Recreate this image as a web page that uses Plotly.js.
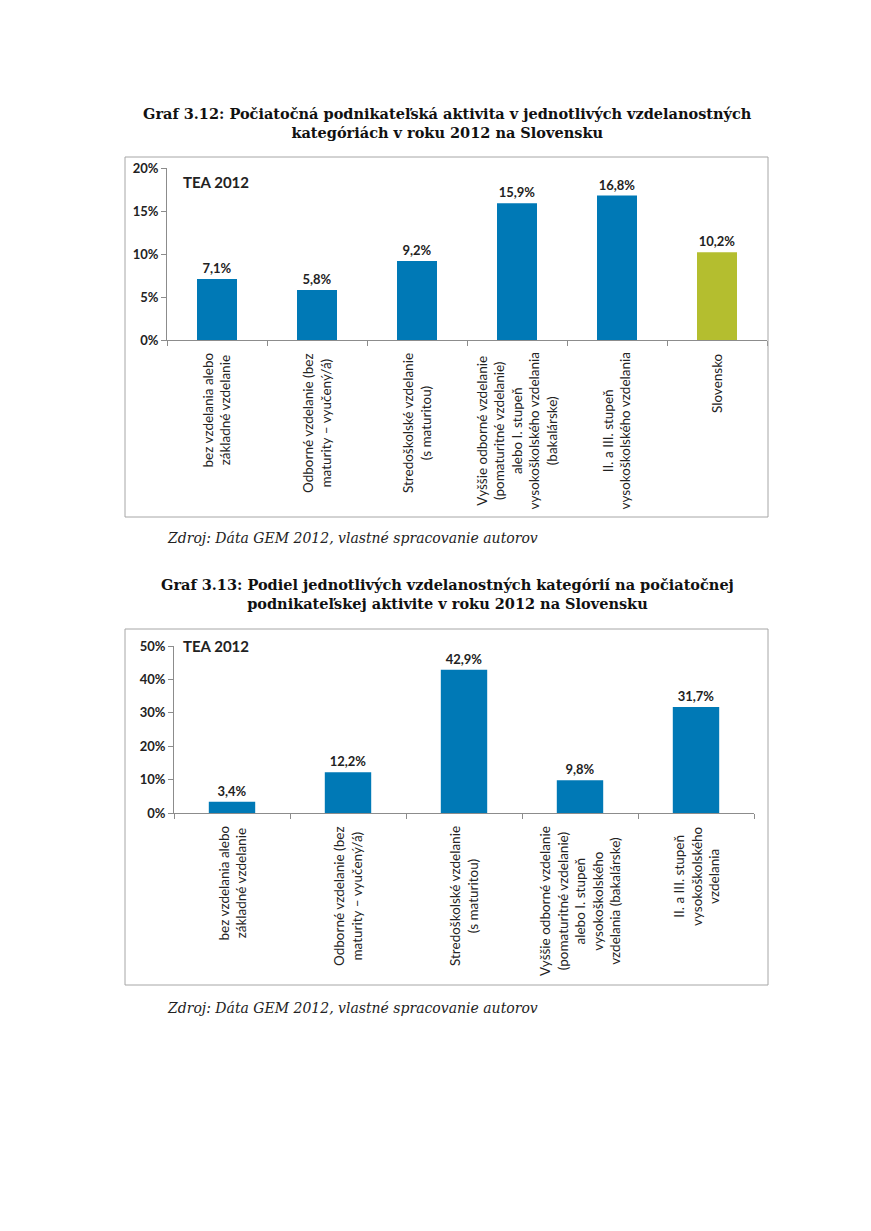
<!DOCTYPE html>
<html>
<head>
<meta charset="utf-8">
<script src="https://cdn.plot.ly/plotly-3.0.1.min.js"></script>
<style>
html,body{margin:0;padding:0;background:#fff;}
#chart{width:871px;height:1231px;}
</style>
</head>
<body>
<div id="chart"></div>
<script>
// ---- data ----
const categories1 = [
  'bez vzdelania alebo<br>základné vzdelanie',
  'Odborné vzdelanie (bez<br>maturity – vyučený/á)',
  'Stredoškolské vzdelanie<br>(s maturitou)',
  'Vyššie odborné vzdelanie<br>(pomaturitné vzdelanie)<br>alebo I. stupeň<br>vysokoškolského vzdelania<br>(bakalárske)',
  'II. a III. stupeň<br>vysokoškolského vzdelania',
  'Slovensko'
];
const values1 = [7.1, 5.8, 9.2, 15.9, 16.8, 10.2];

const categories2 = [
  'bez vzdelania alebo<br>základné vzdelanie',
  'Odborné vzdelanie (bez<br>maturity – vyučený/á)',
  'Stredoškolské vzdelanie<br>(s maturitou)',
  'Vyššie odborné vzdelanie<br>(pomaturitné vzdelanie)<br>alebo I. stupeň<br>vysokoškolského<br>vzdelania (bakalárske)',
  'II. a III. stupeň<br>vysokoškolského<br>vzdelania'
];
const values2 = [3.4, 12.2, 42.9, 9.8, 31.7];

const yTicks1 = [0, 5, 10, 15, 20];
const yTicks2 = [0, 10, 20, 30, 40, 50];
const yTickText1 = ['0%', '5%', '10%', '15%', '20%'];
const yTickText2 = ['0%', '10%', '20%', '30%', '40%', '50%'];

const title1 = 'Graf 3.12: Počiatočná podnikateľská aktivita v jednotlivých vzdelanostných<br>kategóriách v roku 2012 na Slovensku';
const title2 = 'Graf 3.13: Podiel jednotlivých vzdelanostných kategórií na počiatočnej<br>podnikateľskej aktivite v roku 2012 na Slovensku';
const sourceText = 'Zdroj: Dáta GEM 2012, vlastné spracovanie autorov';
const legendText = 'TEA 2012';

// ---- layout helpers ----
const W = 871, H = 1231;
const px = x => x / W;
const py = y => 1 - y / H;
const BLUE = '#0079b6';
const GREEN = '#b4be2f';
const SANS = 'Lato, "Open Sans", sans-serif';
const SERIF = '"DejaVu Serif", Georgia, serif';

const trace1 = {
  type: 'bar', x: categories1, y: values1, xaxis: 'x', yaxis: 'y',
  marker: {color: categories1.map(c => c === 'Slovensko' ? GREEN : BLUE)},
  texttemplate: '<b>%{y:.1f}%</b>', textposition: 'outside',
  textfont: {family: SANS, size: 13, color: '#222'},
  cliponaxis: false, hoverinfo: 'skip'
};
const trace2 = {
  type: 'bar', x: categories2, y: values2, xaxis: 'x2', yaxis: 'y2',
  marker: {color: BLUE},
  texttemplate: '<b>%{y:.1f}%</b>', textposition: 'outside',
  textfont: {family: SANS, size: 13, color: '#222'},
  cliponaxis: false, hoverinfo: 'skip'
};

const xCommon = {
  type: 'category', showticklabels: false, ticks: 'outside', tickson: 'boundaries',
  ticklen: 5, tickcolor: '#8c8c8c', showline: true, linecolor: '#8c8c8c', linewidth: 1,
  showgrid: false, zeroline: false, fixedrange: true
};
const yCommon = {
  ticks: 'outside', ticklen: 5, tickcolor: '#8c8c8c', showline: true, linecolor: '#8c8c8c',
  linewidth: 1, showgrid: false, zeroline: false, tickmode: 'array',
  tickfont: {family: SANS, size: 13, color: '#222', weight: 'bold'}, fixedrange: true
};

const catAnn = (cats, xref, yTop) => cats.map(c => ({
  x: c, xref: xref, y: py(yTop), yref: 'paper', text: c, showarrow: false,
  textangle: -90, align: 'center', xanchor: 'center', yanchor: 'top',
  font: {family: SANS, size: 13.5, color: '#222'}
}));

const layout = {
  width: W, height: H, autosize: false,
  margin: {l: 0, r: 0, t: 0, b: 0, pad: 0},
  paper_bgcolor: '#fff', plot_bgcolor: '#fff',
  showlegend: false, bargap: 0.6, separators: ', ',
  xaxis: Object.assign({}, xCommon, {domain: [px(167), px(767)], anchor: 'y'}),
  yaxis: Object.assign({}, yCommon, {domain: [py(340), py(168)], range: [0, 20], tickvals: yTicks1, ticktext: yTickText1, anchor: 'x'}),
  xaxis2: Object.assign({}, xCommon, {domain: [px(174), px(754)], anchor: 'y2'}),
  yaxis2: Object.assign({}, yCommon, {domain: [py(813), py(646)], range: [0, 50], tickvals: yTicks2, ticktext: yTickText2, anchor: 'x2'}),
  shapes: [
    {type: 'rect', xref: 'paper', yref: 'paper', x0: px(125), x1: px(768), y0: py(157), y1: py(517), line: {color: '#a6a6a6', width: 1}},
    {type: 'rect', xref: 'paper', yref: 'paper', x0: px(125), x1: px(768), y0: py(629), y1: py(985), line: {color: '#a6a6a6', width: 1}}
  ],
  annotations: [
    {text: '<b>' + title1 + '</b>', xref: 'paper', yref: 'paper', x: px(447), y: py(123), xanchor: 'center', yanchor: 'middle', showarrow: false, align: 'center', font: {family: SERIF, size: 14.5, color: '#111'}},
    {text: '<b>' + title2 + '</b>', xref: 'paper', yref: 'paper', x: px(447), y: py(594), xanchor: 'center', yanchor: 'middle', showarrow: false, align: 'center', font: {family: SERIF, size: 14.5, color: '#111'}},
    {text: '<i>' + sourceText + '</i>', xref: 'paper', yref: 'paper', x: px(165), y: py(538), xanchor: 'left', yanchor: 'middle', showarrow: false, font: {family: SERIF, size: 14, color: '#222'}},
    {text: '<i>' + sourceText + '</i>', xref: 'paper', yref: 'paper', x: px(165), y: py(1008), xanchor: 'left', yanchor: 'middle', showarrow: false, font: {family: SERIF, size: 14, color: '#222'}},
    {text: '<b>' + legendText + '</b>', xref: 'paper', yref: 'paper', x: px(181), y: py(182), xanchor: 'left', yanchor: 'middle', showarrow: false, font: {family: SANS, size: 15, color: '#222'}},
    {text: '<b>' + legendText + '</b>', xref: 'paper', yref: 'paper', x: px(181), y: py(646), xanchor: 'left', yanchor: 'middle', showarrow: false, font: {family: SANS, size: 15, color: '#222'}}
  ].concat(catAnn(categories1, 'x', 351)).concat(catAnn(categories2, 'x2', 824))
};

Plotly.newPlot('chart', [trace1, trace2], layout, {staticPlot: true, displayModeBar: false});
</script>
</body>
</html>
